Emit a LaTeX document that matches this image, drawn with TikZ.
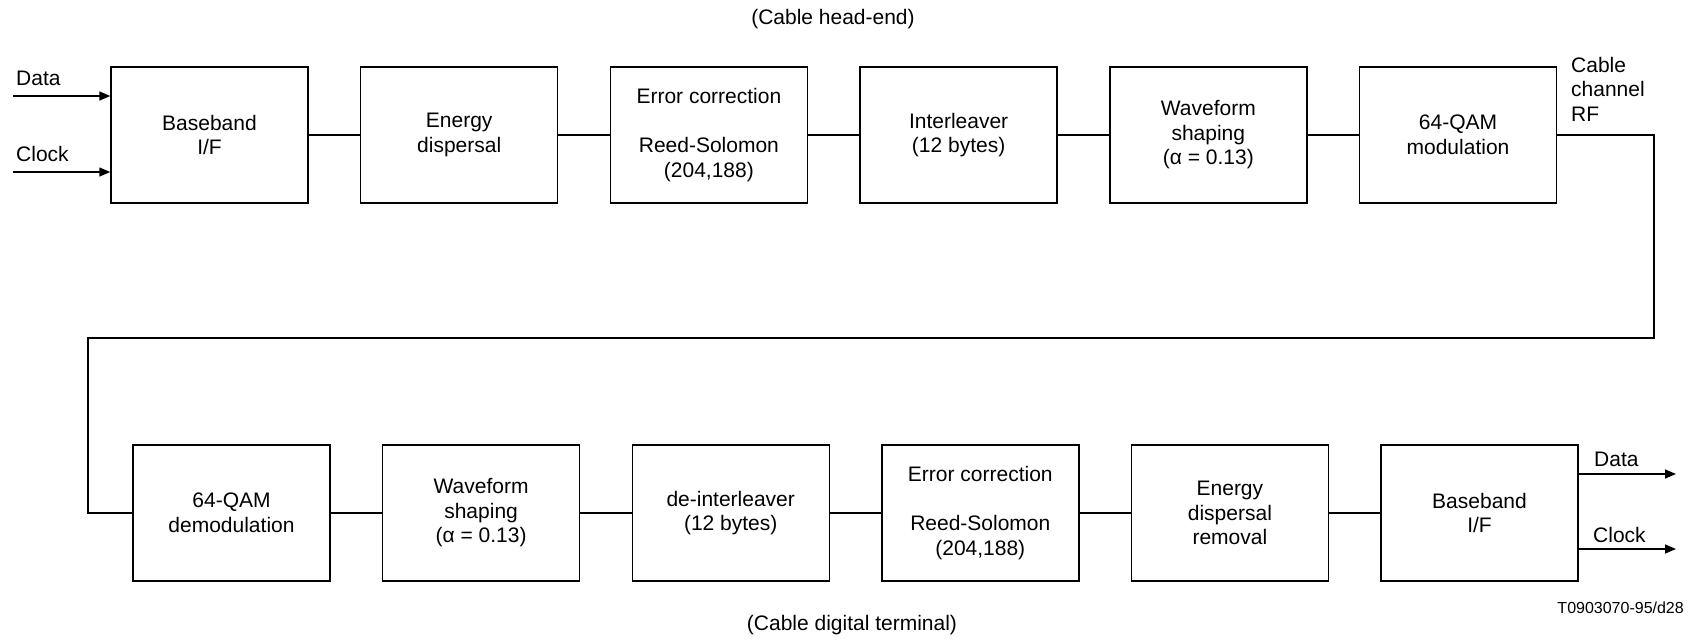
\documentclass[tikz,border=0pt]{standalone}
\usepackage{fontspec}
\setmainfont{Liberation Sans}
\usetikzlibrary{arrows.meta}
\begin{document}
\begin{tikzpicture}[x=1pt,y=-1pt,
  every node/.style={font=\fontsize{21}{24.5}\selectfont},
  blk/.style={draw, line width=1.4pt, minimum width=197pt, minimum height=136pt, align=center, inner sep=0pt},
  lbl/.style={inner sep=0pt, align=left},
  wire/.style={line width=1.4pt},
  arr/.style={line width=1.4pt, -{Triangle[length=11pt,width=9pt]}}]
\useasboundingbox (0,0) rectangle (1690,641);
% top row
\node[blk] (t1) at (209.5,135) {Baseband\\I/F};
\node[blk] (t2) at (459.2,135) {Energy\\dispersal};
\node[blk] (t3) at (708.9,135) {Error correction\\[24.5pt]Reed-Solomon\\(204,188)};
\node[blk] (t4) at (958.6,135) {Interleaver\\(12 bytes)};
\node[blk] (t5) at (1208.3,135) {Waveform\\shaping\\(α = 0.13)};
\node[blk] (t6) at (1458,135) {64-QAM\\modulation};
% bottom row
\node[blk] (b1) at (231.5,513) {64-QAM\\demodulation};
\node[blk] (b2) at (481.1,513) {Waveform\\shaping\\(α = 0.13)};
\node[blk] (b3) at (730.7,513) {de-interleaver\\(12 bytes)};
\node[blk] (b4) at (980.3,513) {Error correction\\[24.5pt]Reed-Solomon\\(204,188)};
\node[blk] (b5) at (1229.9,513) {Energy\\dispersal\\removal};
\node[blk] (b6) at (1479.5,513) {Baseband\\I/F};
% connectors
\draw[wire] (t1) -- (t2);
\draw[wire] (t2) -- (t3);
\draw[wire] (t3) -- (t4);
\draw[wire] (t4) -- (t5);
\draw[wire] (t5) -- (t6);
\draw[wire] (b1) -- (b2);
\draw[wire] (b2) -- (b3);
\draw[wire] (b3) -- (b4);
\draw[wire] (b4) -- (b5);
\draw[wire] (b5) -- (b6);
% loop
\coordinate (c1) at (1654,135);
\coordinate (c2) at (1654,338);
\coordinate (c3) at (88,338);
\coordinate (c4) at (88,513);
\draw[wire] (t6.east) -- (c1) -- (c2) -- (c3) -- (c4) -- (b1.west);
% inputs
\coordinate (din) at (13,96);
\coordinate (cin) at (13,172);
\draw[arr] (din) -- (din -| t1.west);
\draw[arr] (cin) -- (cin -| t1.west);
\node[lbl, anchor=west] (ldin) at (16,78) {Data};
\node[lbl, anchor=west] (lcin) at (16,154) {Clock};
% outputs
\coordinate (dout) at (1676,474);
\coordinate (cout) at (1676,549);
\draw[arr] (dout -| b6.east) -- (dout);
\draw[arr] (cout -| b6.east) -- (cout);
\node[lbl, anchor=west] (ldout) at (1594,459) {Data};
\node[lbl, anchor=west] (lcout) at (1593,535) {Clock};
% labels
\node[lbl, anchor=west] (rf) at (1571,89) {Cable\\channel\\RF};
\node[inner sep=0pt] (head) at (833,19) {(Cable head-end)};
\node[inner sep=0pt] (term) at (852,625) {(Cable digital terminal)};
\node[inner sep=0pt, anchor=east, font=\fontsize{16}{19}\selectfont] (ref) at (1684,608) {T0903070-95/d28};
\end{tikzpicture}
\end{document}
